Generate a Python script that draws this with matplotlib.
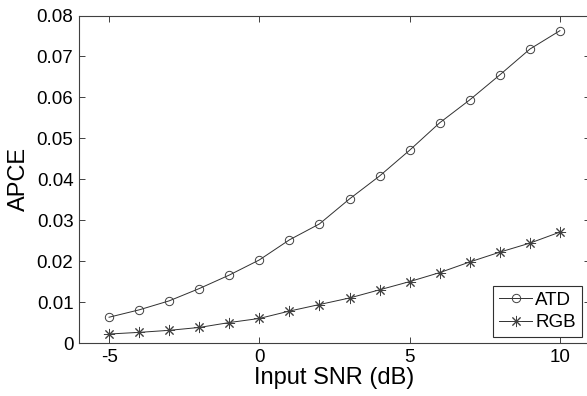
import numpy as np
import matplotlib
matplotlib.use('Agg')
import matplotlib.pyplot as plt

plt.rcParams['font.family'] = ['Liberation Sans', 'DejaVu Sans']
plt.rcParams['axes.unicode_minus'] = False

# Input SNR values (dB)
snr_db = [-5, -4, -3, -2, -1, 0, 1, 2, 3, 4, 5, 6, 7, 8, 9, 10]

# APCE for each method
apce_atd = [0.0063, 0.0081, 0.0103, 0.0133, 0.0166, 0.0203, 0.0252, 0.0291,
            0.0352, 0.0408, 0.0471, 0.0538, 0.0594, 0.0655, 0.0718, 0.0763]
apce_rgb = [0.0022, 0.0026, 0.0031, 0.0038, 0.0050, 0.0060, 0.0078, 0.0094,
            0.0110, 0.0130, 0.0150, 0.0172, 0.0198, 0.0222, 0.0244, 0.0271]

x_ticks = [-5, 0, 5, 10]
y_ticks = [0, 0.01, 0.02, 0.03, 0.04, 0.05, 0.06, 0.07, 0.08]
y_labels = ['0', '0.01', '0.02', '0.03', '0.04', '0.05', '0.06', '0.07', '0.08']

fig = plt.figure(figsize=(5.87, 3.96), dpi=100)
ax = fig.add_axes([0.1346, 0.1338, 0.8705, 0.8270])

line_col = '#303030'
ax.plot(snr_db, apce_atd, color=line_col, linewidth=0.7, marker='o',
        markersize=6, markerfacecolor='none', markeredgecolor='#404040',
        markeredgewidth=0.7, label='ATD')
ax.plot(snr_db, apce_rgb, color=line_col, linewidth=0.7, marker=(8, 2, 0),
        markersize=8, markeredgecolor='#404040', markeredgewidth=0.7,
        label='RGB')

ax.set_xlim(-6, 11)
ax.set_ylim(0, 0.08)
ax.set_xticks(x_ticks)
ax.set_yticks(y_ticks)
ax.set_yticklabels(y_labels)
ax.tick_params(direction='in', length=4, width=0.7, top=True, right=True,
               labelsize=13.5, color='#404040', pad=4)

for spine in ax.spines.values():
    spine.set_color('#404040')
    spine.set_linewidth(0.8)

ax.set_xlabel('Input SNR (dB)', fontsize=17, labelpad=1)
ax.set_ylabel('APCE', fontsize=17, labelpad=5)

leg = ax.legend(loc='lower right', bbox_to_anchor=(0.9835, 0.018),
                fontsize=13.5, frameon=True, fancybox=False, framealpha=1,
                edgecolor='#303030', borderpad=0.3, labelspacing=0.3,
                handlelength=1.8, handletextpad=0.15, borderaxespad=0.0)
leg.get_frame().set_linewidth(0.8)

fig.savefig('out.png', dpi=100)
